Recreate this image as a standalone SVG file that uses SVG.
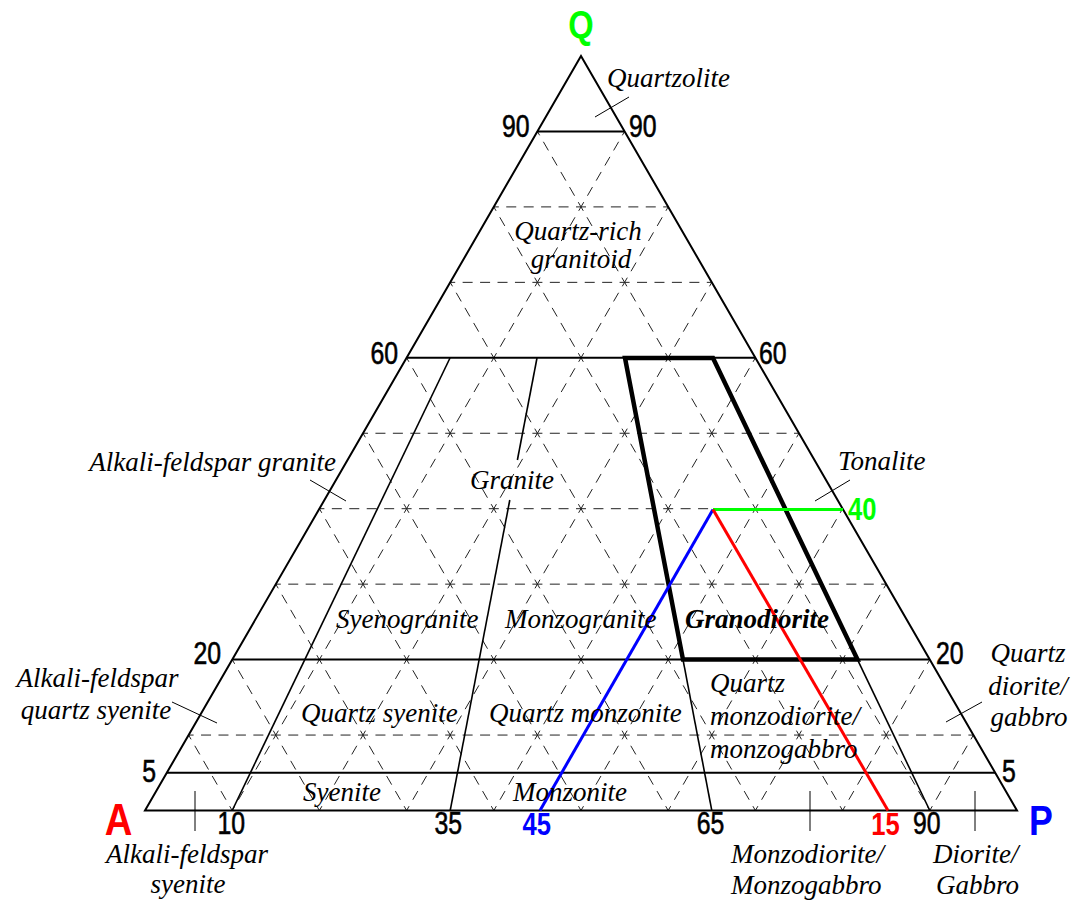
<svg xmlns="http://www.w3.org/2000/svg" width="1072" height="901" viewBox="0 0 1072 901">
<style>
.grid line{stroke:#222;stroke-width:1;stroke-dasharray:10 7.44;stroke-dashoffset:5;fill:none}
.solid{stroke:#000;stroke-width:2;fill:none}
.thin{stroke:#000;stroke-width:1.6;fill:none}
.lead{stroke:#000;stroke-width:1;fill:none}
.bold{stroke:#000;stroke-width:4.5;fill:none;stroke-linejoin:miter}
.lbl{font-family:"Liberation Serif","Times New Roman",serif;font-style:italic;font-size:27px;fill:#000}
.num{font-family:"Liberation Sans",Arial,sans-serif;font-size:31px;fill:#000;stroke:#000;stroke-width:0.6}
.bnum{font-family:"Liberation Sans",Arial,sans-serif;font-size:32px;font-weight:bold}
.vtx{font-family:"Liberation Sans",Arial,sans-serif;font-weight:bold;text-anchor:middle}
</style>
<rect width="1072" height="901" fill="#fff"/>
<g id="grid" class="grid">
<line x1="188.6" y1="735.05" x2="973.4" y2="735.05"/>
<line x1="275.8" y1="584.15" x2="886.2" y2="584.15"/>
<line x1="319.4" y1="508.7" x2="842.6" y2="508.7"/>
<line x1="363" y1="433.25" x2="799" y2="433.25"/>
<line x1="450.2" y1="282.35" x2="711.8" y2="282.35"/>
<line x1="493.8" y1="206.9" x2="668.2" y2="206.9"/>
<line x1="232.2" y1="810.5" x2="624.6" y2="131.45"/>
<line x1="319.4" y1="810.5" x2="668.2" y2="206.9"/>
<line x1="406.6" y1="810.5" x2="711.8" y2="282.35"/>
<line x1="493.8" y1="810.5" x2="755.4" y2="357.8"/>
<line x1="581" y1="810.5" x2="799" y2="433.25"/>
<line x1="668.2" y1="810.5" x2="842.6" y2="508.7"/>
<line x1="755.4" y1="810.5" x2="886.2" y2="584.15"/>
<line x1="842.6" y1="810.5" x2="929.8" y2="659.6"/>
<line x1="929.8" y1="810.5" x2="973.4" y2="735.05"/>
<line x1="232.2" y1="810.5" x2="188.6" y2="735.05"/>
<line x1="319.4" y1="810.5" x2="232.2" y2="659.6"/>
<line x1="406.6" y1="810.5" x2="275.8" y2="584.15"/>
<line x1="493.8" y1="810.5" x2="319.4" y2="508.7"/>
<line x1="581" y1="810.5" x2="363" y2="433.25"/>
<line x1="668.2" y1="810.5" x2="406.6" y2="357.8"/>
<line x1="755.4" y1="810.5" x2="450.2" y2="282.35"/>
<line x1="842.6" y1="810.5" x2="493.8" y2="206.9"/>
<line x1="929.8" y1="810.5" x2="537.4" y2="131.45"/>
</g>
<g id="outline">
<polygon class="solid" points="145,810.5 1017,810.5 581,56"/>
<line class="solid" x1="537.4" y1="131.45" x2="624.6" y2="131.45"/>
<line class="solid" x1="406.6" y1="357.8" x2="755.4" y2="357.8"/>
<line class="solid" x1="232.2" y1="659.6" x2="929.8" y2="659.6"/>
<line class="solid" x1="166.8" y1="772.8" x2="995.2" y2="772.8"/>
</g>
<g id="boundaries">
<line class="thin" x1="450" y1="358" x2="232.2" y2="810.5"/>
<line class="thin" x1="537" y1="358" x2="517.4" y2="460"/>
<line class="thin" x1="509.8" y1="500" x2="450.2" y2="810.5"/>
<line class="thin" x1="683" y1="659.6" x2="711.8" y2="810.5"/>
<line class="thin" x1="857.5" y1="659.6" x2="929.8" y2="810.5"/>
</g>
<g id="granodiorite-field">
<polygon class="bold" points="625,358 713,358 857.5,659.6 683,659.6"/>
</g>
<g id="sample-point">
<line x1="713" y1="509.5" x2="843" y2="509.5" stroke="#00ff00" stroke-width="3"/>
<line x1="713" y1="509.5" x2="540" y2="810.5" stroke="#0000ff" stroke-width="3"/>
<line x1="713" y1="509.5" x2="888" y2="810.5" stroke="#ff0000" stroke-width="3"/>
</g>
<g id="leaders">
<line class="lead" x1="595" y1="117" x2="629" y2="97"/>
<line class="lead" x1="310" y1="480" x2="346" y2="501"/>
<line class="lead" x1="172" y1="702" x2="217" y2="723"/>
<line class="lead" x1="850" y1="480" x2="815" y2="501"/>
<line class="lead" x1="982" y1="702" x2="946" y2="722"/>
<line class="lead" x1="195" y1="791" x2="195" y2="831"/>
<line class="lead" x1="810" y1="791" x2="810" y2="831"/>
<line class="lead" x1="975" y1="791" x2="975" y2="831"/>
</g>
<g id="vertices">
<text class="vtx" transform="translate(581,38) scale(0.86,1)" font-size="38" fill="#00ff00">Q</text>
<text class="vtx" transform="translate(118.5,835) scale(0.87,1)" font-size="44" fill="#ff0000">A</text>
<text class="vtx" transform="translate(1041,835) scale(0.85,1)" font-size="42" fill="#0000ff">P</text>
</g>
<g id="scale-numbers">
<text class="num" transform="translate(529.5,137) scale(0.8,1)" text-anchor="end">90</text>
<text class="num" transform="translate(629,137) scale(0.8,1)">90</text>
<text class="num" transform="translate(398,364) scale(0.8,1)" text-anchor="end">60</text>
<text class="num" transform="translate(759,364) scale(0.8,1)">60</text>
<text class="num" transform="translate(221,664) scale(0.8,1)" text-anchor="end">20</text>
<text class="num" transform="translate(936,664) scale(0.8,1)">20</text>
<text class="num" transform="translate(156,782) scale(0.8,1)" text-anchor="end">5</text>
<text class="num" transform="translate(1002,782) scale(0.8,1)">5</text>
<text class="num" transform="translate(231.3,834) scale(0.8,1)" text-anchor="middle">10</text>
<text class="num" transform="translate(448.3,834) scale(0.8,1)" text-anchor="middle">35</text>
<text class="num" transform="translate(710.5,834) scale(0.8,1)" text-anchor="middle">65</text>
<text class="num" transform="translate(926.7,834) scale(0.8,1)" text-anchor="middle">90</text>
<text class="bnum" transform="translate(536.7,835) scale(0.8,1)" text-anchor="middle" fill="#0000ff">45</text>
<text class="bnum" transform="translate(885.5,835) scale(0.8,1)" text-anchor="middle" fill="#ff0000">15</text>
<text class="bnum" transform="translate(848,520) scale(0.8,1)" fill="#00ff00">40</text>
</g>
<g id="field-labels" class="lbl">
<text x="607" y="87">Quartzolite</text>
<text x="578" y="240" text-anchor="middle">Quartz-rich</text>
<text x="581" y="268" text-anchor="middle">granitoid</text>
<text x="512" y="489" text-anchor="middle">Granite</text>
<text x="336" y="471" text-anchor="end">Alkali-feldspar granite</text>
<text x="336" y="628">Syenogranite</text>
<text x="505" y="628">Monzogranite</text>
<text x="685" y="628" font-weight="bold">Granodiorite</text>
<text x="97.5" y="687" text-anchor="middle">Alkali-feldspar</text>
<text x="96" y="719" text-anchor="middle">quartz syenite</text>
<text x="301" y="722">Quartz syenite</text>
<text x="489" y="722">Quartz monzonite</text>
<text x="710" y="692">Quartz</text>
<text x="710" y="725">monzodiorite/</text>
<text x="710" y="758">monzogabbro</text>
<text x="303" y="801">Syenite</text>
<text x="513" y="801">Monzonite</text>
<text x="187" y="863" text-anchor="middle">Alkali-feldspar</text>
<text x="188" y="893" text-anchor="middle">syenite</text>
<text x="731" y="863">Monzodiorite/</text>
<text x="731" y="894">Monzogabbro</text>
<text x="933" y="863">Diorite/</text>
<text x="936" y="894">Gabbro</text>
<text x="838" y="470">Tonalite</text>
<text x="1028" y="662" text-anchor="middle">Quartz</text>
<text x="1028" y="695" text-anchor="middle">diorite/</text>
<text x="1029" y="726" text-anchor="middle">gabbro</text>
</g>
</svg>
